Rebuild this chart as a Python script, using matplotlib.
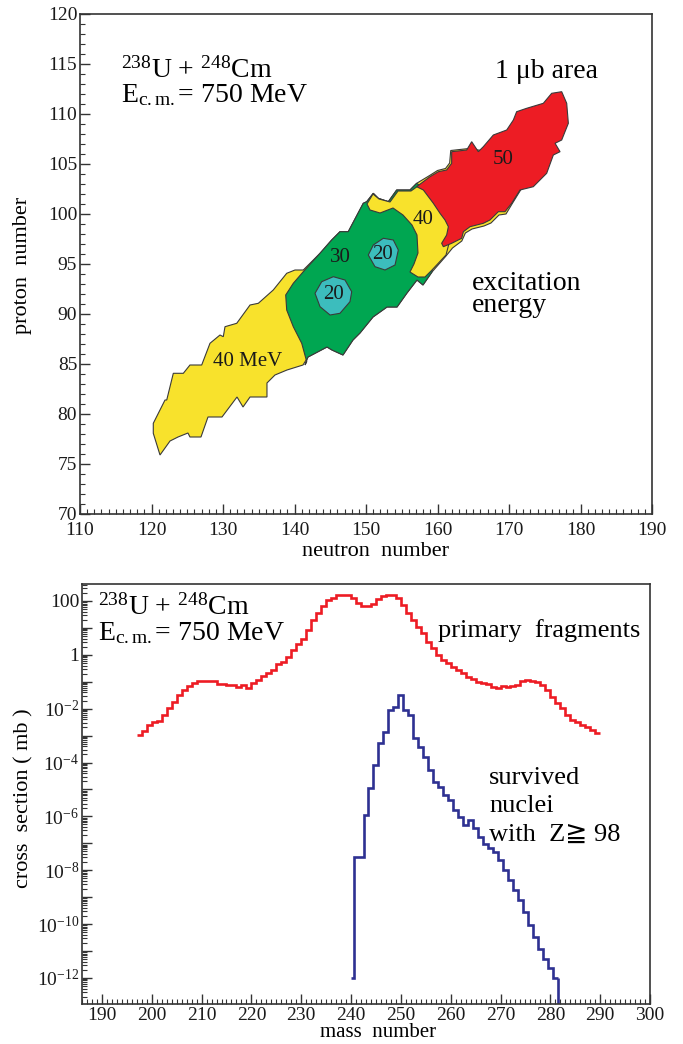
import numpy as np
import matplotlib
matplotlib.use('Agg')
import matplotlib.pyplot as plt
from matplotlib.patches import Polygon
from matplotlib.ticker import MultipleLocator, LogLocator, FuncFormatter, NullFormatter

plt.rcParams['font.family'] = ['Liberation Serif', 'DejaVu Sans']
plt.rcParams['mathtext.fontset'] = 'custom'
plt.rcParams['mathtext.rm'] = 'Liberation Serif'
plt.rcParams['mathtext.it'] = 'Liberation Serif:italic'
plt.rcParams['mathtext.bf'] = 'Liberation Serif:bold'

# ---------------- top panel: regions in (N, Z) plane ----------------
outer_N = [121.19, 122.59, 123.71, 125.10, 125.38, 126.92, 127.90, 129.86, 131.96, 132.80,
           133.78, 136.15, 136.15, 137.27, 138.95, 141.19, 141.89, 144.55, 145.24, 146.78,
           148.18, 149.16, 150.98, 152.94, 154.34, 155.73, 157.13, 157.97, 159.23, 161.19,
           162.10, 163.40, 163.90, 164.83, 166.50, 167.48, 168.60, 169.58, 170.42, 171.54,
           174.34, 164.40, 161.85, 161.70, 161.12, 160.00, 158.90, 157.09, 156.15, 154.29,
           153.12, 151.72, 151.02, 150.10, 149.62, 147.52, 146.36, 145.20, 143.57, 141.23,
           140.07, 138.91, 137.03, 134.94, 133.78, 131.92, 130.28, 130.04, 129.58, 128.18,
           127.02, 125.38, 124.45, 123.05, 122.13, 121.89, 120.25, 120.25]
outer_Z = [75.9, 77.3, 77.7, 78.1, 77.7, 77.7, 79.7, 79.7, 81.7, 80.7,
           81.7, 81.7, 83.1, 83.9, 84.4, 84.9, 85.7, 86.7, 86.4, 85.9,
           87.4, 88.1, 89.7, 90.7, 90.7, 92.1, 93.4, 92.9, 94.2, 95.8,
           96.6, 97.3, 98.1, 98.5, 98.8, 99.1, 99.9, 100.0, 101.0, 102.3,
           105.4, 106.55, 106.35, 105.1, 104.55, 104.35, 103.85, 103.07, 102.4, 102.4,
           101.23, 101.57, 102.07, 101.23, 101.07, 98.23, 98.23, 97.4, 96.07, 94.4,
           94.4, 94.07, 92.4, 91.07, 90.9, 89.07, 88.73, 87.73, 87.9, 87.07,
           84.9, 84.9, 84.07, 84.07, 81.4, 81.4, 79.07, 78.07]

green_N = [141.23, 139.83, 138.77, 138.91, 139.83, 141.01, 141.71, 141.47, 141.89, 144.55,
           145.24, 146.78, 148.18, 149.16, 150.98, 152.94, 154.34, 155.73, 157.13, 157.97,
           159.23, 160.35, 157.09, 156.15, 154.29, 153.12, 151.72, 151.02, 150.10, 149.62,
           147.52, 146.36, 145.20, 143.57]
green_Z = [94.23, 93.07, 91.9, 90.4, 88.73, 87.07, 85.23, 84.9, 85.7, 86.7,
           86.4, 85.9, 87.4, 88.1, 89.7, 90.7, 90.7, 92.1, 93.4, 92.9,
           94.2, 101.4, 103.07, 102.4, 102.4, 101.23, 101.57, 102.07, 101.23, 101.07,
           98.23, 98.23, 97.4, 96.07]

yellow40_N = [150.14, 150.56, 151.96, 153.78, 155.17, 156.43, 157.13, 157.27, 156.71, 156.15,
              157.27, 158.25, 159.23, 161.19, 162.45, 161.05, 157.27, 156.29, 154.48, 153.36,
              151.82, 150.98]
yellow40_Z = [101.0, 100.4, 100.1, 100.6, 99.9, 98.9, 97.9, 96.1, 95.0, 94.2,
              93.7, 93.7, 94.4, 95.9, 99.4, 103.4, 102.8, 102.3, 102.3, 101.2,
              101.5, 102.0]

cyan1_N = [151.02, 152.42, 153.82, 154.52, 154.06, 152.66, 151.26, 150.32]
cyan1_Z = [96.9, 97.57, 97.4, 96.4, 94.9, 94.4, 94.73, 95.9]
cyan2_N = [143.80, 145.43, 147.06, 148.00, 147.76, 146.36, 144.97, 143.57, 142.87]
cyan2_Z = [93.23, 93.73, 93.4, 92.23, 91.23, 90.07, 89.9, 90.73, 92.07]

red_N = [175.97, 177.37, 178.07, 178.30, 177.37, 176.44, 177.14, 176.20, 175.27, 173.40,
         171.54, 170.37, 169.44, 168.51, 167.34, 166.41, 164.55, 163.62, 163.38, 161.98,
         160.82, 160.58, 161.28, 161.52, 161.05, 160.35, 159.42, 158.02, 157.09, 158.95,
         160.12, 161.28, 161.98, 161.98, 164.08, 164.78, 165.71, 166.41, 167.81, 169.68,
         170.61, 171.07, 172.47, 174.80]
red_Z = [112.07, 112.23, 111.07, 109.07, 107.4, 107.07, 106.23, 105.9, 104.07, 102.73,
         102.4, 101.07, 100.23, 100.23, 99.4, 99.07, 98.73, 98.23, 97.57, 97.07,
         96.73, 97.07, 97.9, 98.73, 99.4, 100.07, 101.07, 102.4, 102.73, 103.73,
         104.23, 104.4, 105.07, 106.23, 106.4, 107.23, 106.23, 106.73, 107.9, 108.4,
         109.4, 110.23, 110.57, 111.07]

region_labels = ['40 MeV', '30', '20', '20', '40', '50']
region_label_N = [133.5, 146.4, 152.3, 145.4, 158.0, 169.2]
region_label_Z = [85.2, 95.6, 95.9, 91.9, 99.4, 105.4]

# ---------------- bottom panel: mass distributions ----------------
primary_A_edges = np.arange(197, 291)
primary_log_sigma = [
    -2.96, -2.82, -2.61, -2.49, -2.45, -2.24, -1.99, -1.74, -1.49, -1.31,   # 197-206
    -1.16, -1.04, -0.99, -0.97, -0.97, -0.98, -1.09, -1.09, -1.12, -1.12,   # 207-216
    -1.20, -1.12, -1.24, -1.05, -0.94, -0.80, -0.68, -0.57, -0.35, -0.26,   # 217-226
    -0.07, 0.18, 0.40, 0.60, 0.92, 1.29, 1.54, 1.82, 2.02, 2.12,            # 227-236
    2.22, 2.24, 2.22, 2.10, 1.92, 1.83, 1.81, 1.90, 2.08, 2.20,             # 237-246
    2.24, 2.22, 2.10, 1.85, 1.54, 1.29, 1.05, 0.80, 0.49, 0.24,             # 247-256
    0.0, -0.19, -0.32, -0.44, -0.57, -0.69, -0.81, -0.91, -1.00, -1.06,     # 257-266
    -1.10, -1.19, -1.25, -1.16, -1.19, -1.15, -1.12, -0.96, -0.94, -0.96,   # 267-276
    -1.00, -1.12, -1.31, -1.56, -1.80, -1.99, -2.24, -2.42, -2.49, -2.61,   # 277-286
    -2.67, -2.80, -2.90]                                                     # 287-289

survived_A_edges = np.concatenate([[240.0], np.arange(240.5, 282.0, 1.0)])
survived_log_sigma = [
    -12.0, -7.5, -7.5, -5.96, -4.96, -4.10, -3.29, -2.86, -2.05, -1.93,    # 240-249
    -1.49, -2.05, -2.24, -3.10, -3.42, -3.79, -4.28, -4.72, -4.90, -5.21,  # 250-259
    -5.40, -5.77, -6.02, -6.33, -6.14, -6.45, -6.76, -7.01, -7.19, -7.32,  # 260-269
    -7.63, -8.00, -8.37, -8.74, -9.12, -9.55, -10.04, -10.48, -10.91, -11.28,  # 270-279
    -11.65, -12.02]                                                         # 280-281

YELLOW = '#F8E22C'
GREEN = '#00A651'
CYAN = '#3CBDBD'
RED = '#ED1C24'
BLUE = '#2E3192'
EDGE = '#3a3a3a'
SPINE = '#333333'

fig = plt.figure(figsize=(6.83, 10.44), dpi=100)
ax1 = fig.add_axes([80/683, 1-514/1044, 572/683, 500/1044])
ax2 = fig.add_axes([82/683, 40/1044, 568/683, 420/1044])

def poly(ax, n, z, color, zo):
    ax.add_patch(Polygon(np.column_stack([n, z]), closed=True, facecolor=color,
                         edgecolor=EDGE, linewidth=0.8, zorder=zo))

poly(ax1, outer_N, outer_Z, YELLOW, 2)
poly(ax1, green_N, green_Z, GREEN, 3)
poly(ax1, yellow40_N, yellow40_Z, YELLOW, 4)
poly(ax1, cyan1_N, cyan1_Z, CYAN, 5)
poly(ax1, cyan2_N, cyan2_Z, CYAN, 5)
poly(ax1, red_N, red_Z, RED, 6)

for t, n, z in zip(region_labels, region_label_N, region_label_Z):
    ax1.text(n, z, t, fontsize=15, ha='center', va='center', color='#1a1a1a', zorder=10)

ax1.text(115.7, 114.4, r'$^{238}$U + $^{248}$Cm', fontsize=20, ha='left', va='center')
ax1.text(115.7, 111.9, r'E$_{\rm c.m.}$= 750 MeV', fontsize=20, ha='left', va='center')
ax1.text(175.3, 114.2, '1 \u03bcb area', fontsize=20, ha='center', va='center')
ax1.text(164.8, 93.1, 'excitation', fontsize=20, ha='left', va='center')
ax1.text(164.8, 90.8, 'energy', fontsize=20, ha='left', va='center')

ax1.set_xlim(110, 190)
ax1.set_ylim(70, 120)
ax1.xaxis.set_major_locator(MultipleLocator(10))
ax1.xaxis.set_minor_locator(MultipleLocator(1))
ax1.yaxis.set_major_locator(MultipleLocator(5))
ax1.yaxis.set_minor_locator(MultipleLocator(1))
ax1.set_xlabel('neutron  number', fontsize=16)
ax1.set_ylabel('proton  number', fontsize=16)
ax1.xaxis.set_label_coords(0.516, -0.076)
ax1.xaxis.label.set_va('center')
ax1.yaxis.set_label_coords(-0.101, 0.498)
ax1.yaxis.label.set_va('center')

# bottom panel
ax2.stairs(10.0 ** np.array(primary_log_sigma), primary_A_edges, baseline=None,
           color=RED, linewidth=1.9)
blue_vals = 10.0 ** np.array(survived_log_sigma)
ax2.stairs(blue_vals, survived_A_edges, baseline=None, color=BLUE, linewidth=1.9)
ax2.set_yscale('log')
ax2.set_xlim(186, 300)
ax2.set_ylim(10 ** -12.97, 10 ** 2.63)
ax2.plot([survived_A_edges[-1]] * 2, [blue_vals[-1], 10 ** -12.97], color=BLUE,
         linewidth=1.9, solid_capstyle='butt')

def yfmt(v, pos):
    e = int(round(np.log10(v)))
    if e == 2:
        return '100'
    if e == 0:
        return '1'
    if e < 0 and e % 2 == 0:
        return r'$10^{%d}$' % e
    return ''

ax2.yaxis.set_major_locator(LogLocator(base=10, numticks=40))
ax2.yaxis.set_major_formatter(FuncFormatter(yfmt))
ax2.yaxis.set_minor_locator(LogLocator(base=10, subs=np.arange(2, 10), numticks=40))
ax2.yaxis.set_minor_formatter(NullFormatter())
ax2.xaxis.set_major_locator(MultipleLocator(10))
ax2.xaxis.set_minor_locator(MultipleLocator(1))

ax2.text(189.2, 10 ** 1.78, r'$^{238}$U + $^{248}$Cm', fontsize=20, ha='left', va='center')
ax2.text(189.2, 10 ** 0.80, r'E$_{\rm c.m.}$= 750 MeV', fontsize=20, ha='left', va='center')
ax2.text(257.4, 10 ** 0.92, 'primary  fragments', fontsize=19, ha='left', va='center')
ax2.text(267.7, 10 ** -4.58, 'survived', fontsize=19, ha='left', va='center')
ax2.text(267.7, 10 ** -5.62, 'nuclei', fontsize=19, ha='left', va='center')
ax2.text(267.7, 10 ** -6.68, 'with  Z\u2267 98', fontsize=19, ha='left', va='center')

ax2.set_xlabel('mass  number', fontsize=15)
ax2.set_ylabel('cross  section ( mb )', fontsize=16)
ax2.xaxis.set_label_coords(0.521, -0.067)
ax2.xaxis.label.set_va('center')
ax2.yaxis.set_label_coords(-0.102, 0.49)
ax2.yaxis.label.set_va('center')

for ax in (ax1, ax2):
    for s in ax.spines.values():
        s.set_linewidth(1.2)
        s.set_color(SPINE)
    ax.tick_params(which='both', direction='in', top=False, right=False,
                   colors=SPINE, labelcolor='#1a1a1a', labelsize=14)
    ax.tick_params(which='major', length=7, width=1.0)
    ax.tick_params(which='minor', length=3.5, width=0.8)
    ax.tick_params(axis='y', pad=2)
ax1.tick_params(axis='x', pad=6)
ax2.tick_params(axis='x', pad=2)

fig.savefig('out.png', dpi=100)
